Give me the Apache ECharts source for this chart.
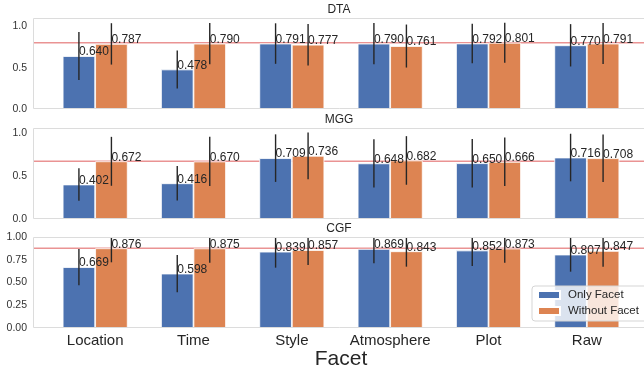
<!DOCTYPE html>
<html>
<head>
<meta charset="utf-8">
<script src="https://cdn.jsdelivr.net/npm/echarts@6/dist/echarts.min.js"></script>
<style>
  html, body { margin: 0; padding: 0; background: #fff; }
  #chart { width: 644px; height: 372px; }
</style>
</head>
<body>
<div id="chart"></div>
<script>
// data
var categories = ['Location', 'Time', 'Style', 'Atmosphere', 'Plot', 'Raw'];
var panelNames = ['DTA', 'MGG', 'CGF'];
var seriesNames = ['Only Facet', 'Without Facet'];

var dtaOnly = [0.640, 0.478, 0.791, 0.790, 0.792, 0.770];
var dtaWithout = [0.787, 0.790, 0.777, 0.761, 0.801, 0.791];
var dtaOnlyErr = [0.29, 0.23, 0.245, 0.25, 0.24, 0.256];
var dtaWithoutErr = [0.25, 0.25, 0.25, 0.26, 0.243, 0.248];

var mggOnly = [0.402, 0.416, 0.709, 0.648, 0.650, 0.716];
var mggWithout = [0.672, 0.670, 0.736, 0.682, 0.666, 0.708];
var mggOnlyErr = [0.19, 0.20, 0.277, 0.28, 0.283, 0.277];
var mggWithoutErr = [0.285, 0.287, 0.273, 0.283, 0.283, 0.277];

var cgfOnly = [0.669, 0.598, 0.839, 0.869, 0.852, 0.807];
var cgfWithout = [0.876, 0.875, 0.857, 0.843, 0.873, 0.847];
var cgfOnlyErr = [0.20, 0.205, 0.176, 0.158, 0.171, 0.188];
var cgfWithoutErr = [0.154, 0.157, 0.165, 0.169, 0.155, 0.173];

var refLines = [0.80, 0.672, 0.876];
var yMax = [1.1, 1.06, 1.0];
var yStep = [0.5, 0.5, 0.25];
var yDecimals = [1, 1, 2];

// layout / style
var font = '"Liberation Sans", Arial, sans-serif';
var blue = '#4c72b0', orange = '#dd8452';
var textColor = '#262626';
var panelTop = [18, 128, 237], panelH = 91;
var gridLeft = 46, gridRight = 8, frameLeft = 33;
var barW = 32.5;

var onlyVals = [dtaOnly, mggOnly, cgfOnly];
var withoutVals = [dtaWithout, mggWithout, cgfWithout];
var onlyErrs = [dtaOnlyErr, mggOnlyErr, cgfOnlyErr];
var withoutErrs = [dtaWithoutErr, mggWithoutErr, cgfWithoutErr];

function errSeries(p, vals, errs, side) {
  return {
    type: 'custom', xAxisIndex: p, yAxisIndex: p, z: 5, silent: true,
    data: vals.map(function (v, i) { return [i, v, errs[i]]; }),
    renderItem: function (params, api) {
      var i = api.value(0), v = api.value(1), e = api.value(2);
      var top = api.coord([i, Math.min(v + e, yMax[p])]);
      var bot = api.coord([i, Math.max(v - e, 0)]);
      var x = top[0] + side * barW / 2;
      return {
        type: 'line',
        shape: { x1: x, y1: top[1], x2: x, y2: bot[1] },
        style: { stroke: '#262626', lineWidth: 1.4 }
      };
    }
  };
}

function barSeries(p, name, vals, color) {
  return {
    name: name, type: 'bar', xAxisIndex: p, yAxisIndex: p,
    data: vals, barWidth: barW, barGap: '0%',
    itemStyle: { color: color, borderColor: '#fff', borderWidth: 0.8 },
    label: {
      show: true, position: ['50%', 0], align: 'left', verticalAlign: 'bottom',
      offset: [0, 2],
      formatter: function (d) { return d.value.toFixed(3); },
      fontFamily: font, fontSize: 12, color: textColor
    },
    z: 2
  };
}

var grids = [], xAxes = [], yAxes = [], series = [], titles = [], frames = [];
for (var p = 0; p < 3; p++) {
  grids.push({ left: gridLeft, right: gridRight, top: panelTop[p], height: panelH });
  xAxes.push({
    type: 'category', gridIndex: p, data: categories,
    axisLine: { show: false }, axisTick: { show: false },
    axisLabel: { show: p === 2, interval: 0, fontFamily: font, fontSize: 15, color: textColor, margin: 5 },
    name: p === 2 ? 'Facet' : '', nameLocation: 'middle', nameGap: 20,
    nameTextStyle: { fontFamily: font, fontSize: 21, color: textColor, verticalAlign: 'top' }
  });
  (function (p) {
    yAxes.push({
      type: 'value', gridIndex: p, min: 0, max: yMax[p], interval: yStep[p],
      axisLine: { show: false }, axisTick: { show: false }, splitLine: { show: false },
      axisLabel: {
        showMaxLabel: p === 2, fontFamily: font, fontSize: 10.5, color: '#333', margin: 19,
        formatter: function (v) { return v.toFixed(yDecimals[p]); }
      }
    });
    series.push({
      type: 'custom', xAxisIndex: p, yAxisIndex: p, z: 1, silent: true,
      data: [[0, refLines[p]]],
      renderItem: function (params, api) {
        var c = api.coord([0, api.value(1)]);
        var cs = params.coordSys;
        return {
          type: 'line',
          shape: { x1: frameLeft, y1: c[1], x2: cs.x + cs.width + gridRight, y2: c[1] },
          style: { stroke: 'rgba(214,39,40,0.5)', lineWidth: 1.5 }
        };
      }
    });
  })(p);
  series.push(barSeries(p, seriesNames[0], onlyVals[p], blue));
  series.push(barSeries(p, seriesNames[1], withoutVals[p], orange));
  series.push(errSeries(p, onlyVals[p], onlyErrs[p], -1));
  series.push(errSeries(p, withoutVals[p], withoutErrs[p], 1));
  titles.push({
    text: panelNames[p], left: 339, top: panelTop[p] - 14, textAlign: 'center', padding: 0,
    textStyle: { fontFamily: font, fontSize: 12, fontWeight: 'normal', color: textColor }
  });
  frames.push({
    type: 'rect', z: 10, silent: true,
    shape: { x: frameLeft + 0.5, y: panelTop[p] + 0.5, width: 650 - frameLeft, height: panelH - 1 },
    style: { fill: null, stroke: '#dcdcdc', lineWidth: 1 }
  });
}

var chart = echarts.init(document.getElementById('chart'), null, { renderer: 'canvas' });
chart.setOption({
  animation: false,
  backgroundColor: '#fff',
  title: titles,
  grid: grids,
  xAxis: xAxes,
  yAxis: yAxes,
  graphic: frames,
  legend: {
    data: seriesNames, orient: 'vertical', left: 532, top: 286,
    icon: 'rect', itemWidth: 22, itemHeight: 8, itemGap: 4,
    padding: [3, 8, 4, 5],
    backgroundColor: 'rgba(255,255,255,0.8)', borderColor: '#d5d5d5', borderWidth: 1, borderRadius: 3,
    textStyle: { fontFamily: font, fontSize: 11.5, color: textColor, padding: [0, 0, 0, 3] }
  },
  series: series
});
</script>
</body>
</html>
